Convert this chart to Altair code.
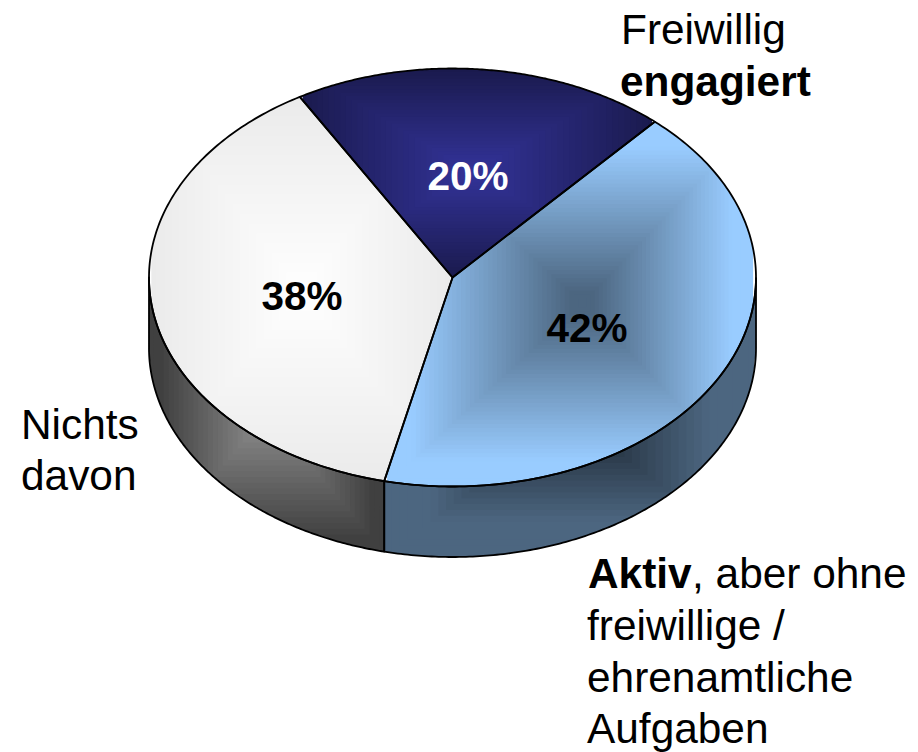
import altair as alt
import numpy as np
import pandas as pd

# ---- values ----
shares = [42, 38, 20]              # clockwise from the first slice
start_angle = 41.8                 # degrees clockwise from the top
percent_texts = ["42%", "38%", "20%"]
percent_colors = ["black", "black", "white"]
percent_x = [587, 302, 468]
percent_y = [342, 310, 190]

plain_texts = ["Freiwillig", "Nichts", "davon", ", aber ohne", "freiwillige /", "ehrenamtliche", "Aufgaben"]
plain_x = [621, 21, 21, 692, 587, 587, 587]
plain_y = [44, 439, 490, 588, 640, 692, 743]
bold_texts = ["engagiert", "Aktiv"]
bold_x = [620, 588]
bold_y = [96, 588]

# ---- pie geometry (page pixels) ----
CX, CY, RX, RY, DEPTH = 452.5, 277.5, 303.5, 209.0, 70.5
OX, OY = 8, 8
W, H = 902, 744


def ell(deg):
    a = np.radians(deg)
    return CX + RX * np.sin(a), CY - RY * np.cos(a)


def bounds(px, py, xs):
    lo = np.full(xs.shape, np.inf)
    hi = np.full(xs.shape, -np.inf)
    x0, y0 = px, py
    x1, y1 = np.roll(px, -1), np.roll(py, -1)
    for a, b, c, d in zip(x0, y0, x1, y1):
        l, r = min(a, c), max(a, c)
        m = (xs >= l) & (xs <= r)
        if not m.any():
            continue
        if r == l:
            lo[m] = np.minimum(lo[m], min(b, d))
            hi[m] = np.maximum(hi[m], max(b, d))
        else:
            ys = b + (xs[m] - a) / (c - a) * (d - b)
            lo[m] = np.minimum(lo[m], ys)
            hi[m] = np.maximum(hi[m], ys)
    return lo, hi


def hexcol(rgb):
    return "#%02x%02x%02x" % tuple(int(round(v)) for v in rgb)


area_rows, line_rows = [], []
key = [0]


def add_piece(px, py, center, c_mid, c_edge, levels, name, t0=0.0, t1=1.0):
    """A path gradient: nested rectangles, each clipped to the piece."""
    x0, x1, y0, y1 = px.min(), px.max(), py.min(), py.max()
    cx, cy = center
    c_mid, c_edge = np.array(c_mid, float), np.array(c_edge, float)
    for lv in range(levels, 0, -1):
        t = lv / levels
        xl, xr = cx + t * (x0 - cx), cx + t * (x1 - cx)
        yt, yb = cy + t * (y0 - cy), cy + t * (y1 - cy)
        xs = np.linspace(xl, xr, 130)
        lo, hi = bounds(px, py, xs)
        lo, hi = np.maximum(lo, yt), np.minimum(hi, yb)
        m = lo < hi
        f = float(np.clip((t - 0.5 / levels - t0) / (t1 - t0), 0, 1))
        col = hexcol(c_mid + f * (c_edge - c_mid))
        key[0] += 1
        for x, a, b in zip(xs[m], lo[m], hi[m]):
            area_rows.append({"x": round(float(x) - OX, 2), "y": round(float(a) - OY, 2),
                              "y2": round(float(b) - OY, 2), "fill": col, "key": key[0]})
    for i, (x, y) in enumerate(zip(px, py)):
        line_rows.append({"x": round(float(x) - OX, 2), "y": round(float(y) - OY, 2), "seq": i, "piece": name})


edges = np.concatenate([[0], np.cumsum(shares)]) / sum(shares) * 360 + start_angle
a_blue, a_grey, a_navy, a_end = edges


def sector(a, b):
    ang = np.linspace(a, b, 160)
    ex, ey = ell(ang)
    return np.concatenate([[CX], ex, [CX]]), np.concatenate([[CY], ey, [CY]])


def wall(a, b):
    ang = np.linspace(a, b, 160)
    ex, ey = ell(ang)
    return np.concatenate([ex, ex[::-1], ex[:1]]), np.concatenate([ey, ey[::-1] + DEPTH, ey[:1]])


# walls: the visible lower rim, split where the slices meet on the rim
add_piece(*wall(a_grey, 270), (267, 414), (0x8f, 0x8f, 0x8f), (0x40, 0x40, 0x40), 24, "wall_grey", 0.0, 0.9)
add_piece(*wall(90, a_grey), (570, 416), (0x19, 0x22, 0x2c), (0x4c, 0x66, 0x80), 24, "wall_blue", 0.0, 0.75)
# top faces
add_piece(*sector(a_blue, a_grey), (583, 303), (0x4c, 0x66, 0x80), (0x99, 0xcc, 0xff), 44, "blue", 0.06, 0.86)
add_piece(*sector(a_grey, a_navy), (302, 292), (0xff, 0xff, 0xff), (0xea, 0xea, 0xea), 20, "white")
add_piece(*sector(a_navy, a_end), (472, 172), (0x33, 0x33, 0x99), (0x1a, 0x1a, 0x4d), 30, "navy")

areas = pd.DataFrame(area_rows)
lines = pd.DataFrame(line_rows)

xs = alt.Scale(domain=[0, W], range=[0, W])
ys = alt.Scale(domain=[0, H], range=[0, H])

area = alt.Chart(areas).mark_area(orient="vertical", strokeWidth=0).encode(
    x=alt.X("x:Q", scale=xs, axis=None),
    y=alt.Y("y:Q", scale=ys, axis=None),
    y2="y2:Q",
    fill=alt.Fill("fill:N", scale=None),
    detail="key:N",
)
outline = alt.Chart(lines).mark_line(color="black", strokeWidth=1.8, strokeJoin="round").encode(
    x=alt.X("x:Q", scale=xs, axis=None),
    y=alt.Y("y:Q", scale=ys, axis=None),
    order="seq:Q",
    detail="piece:N",
)


def text_layer(texts, tx, ty, size, bold, colors=None):
    d = pd.DataFrame({"t": texts, "x": [v - OX for v in tx], "y": [v - OY for v in ty],
                      "c": colors or ["black"] * len(texts)})
    return alt.Chart(d).mark_text(
        font="Liberation Sans", fontSize=size, fontWeight="bold" if bold else "normal",
        align="center" if colors else "left", baseline="alphabetic",
    ).encode(
        x=alt.X("x:Q", scale=xs, axis=None),
        y=alt.Y("y:Q", scale=ys, axis=None),
        text="t:N",
        color=alt.Color("c:N", scale=None),
    )


chart = alt.layer(
    area,
    outline,
    text_layer(percent_texts, percent_x, percent_y, 40.5, True, percent_colors),
    text_layer(plain_texts, plain_x, plain_y, 42.4, False),
    text_layer(bold_texts, bold_x, bold_y, 42.4, True),
).properties(
    width=W, height=H, padding=0, autosize=alt.AutoSizeParams(type="none"), background="white"
).configure_view(stroke=None)

chart.save("out.html", embed_options={"renderer": "svg", "actions": False})
